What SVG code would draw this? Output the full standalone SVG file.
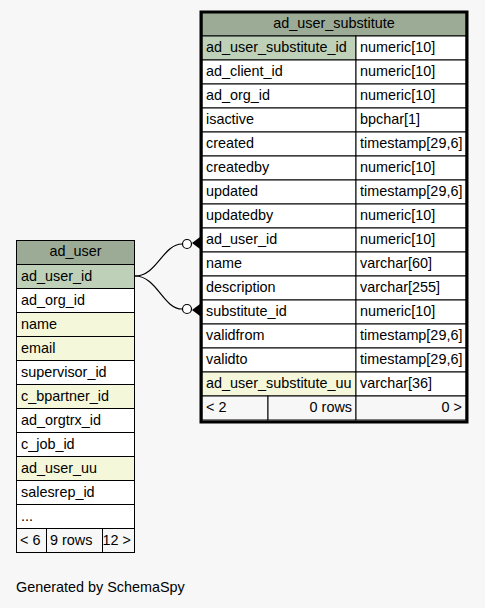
<svg xmlns="http://www.w3.org/2000/svg" width="485" height="608" viewBox="0 0 485 608">
<style>
text{font-family:"Liberation Sans",Arial,sans-serif;font-size:14.4px;fill:#000}
.c{stroke:#000;stroke-width:1}
.h{fill:#9bab96}
.pk{fill:#bed1b8}
.ix{fill:#f4f7da}
.n{fill:#ffffff}
.f{fill:#f7f7f7}
.mid{text-anchor:middle}
.end{text-anchor:end}
.edge{fill:none;stroke:#000;stroke-width:1.2}
</style>
<rect x="0" y="0" width="485" height="608" fill="#f7f7f7"/>
<g id="connectors">
<path class="edge" d="M135,276 C157,276 163,244 182,244"/>
<path class="edge" d="M135,276 C157,276 163,309 182,309"/>
<circle cx="187" cy="244" r="4.5" fill="#fff" stroke="#000" stroke-width="1.2"/>
<circle cx="187" cy="309" r="4.5" fill="#fff" stroke="#000" stroke-width="1.2"/>
<polygon points="192,243 200,237 200,249" fill="#000"/>
<polygon points="192,310 200,304 200,316" fill="#000"/>
</g>
<g id="ad_user_substitute">
<rect class="c h" x="202" y="12" width="264" height="24"/>
<text class="mid" x="334" y="28">ad_user_substitute</text>
<rect class="c pk" x="202" y="36" width="154" height="24"/><rect class="c n" x="356" y="36" width="110" height="24"/>
<text x="206" y="52">ad_user_substitute_id</text><text x="360" y="52">numeric[10]</text>
<rect class="c n" x="202" y="60" width="154" height="24"/><rect class="c n" x="356" y="60" width="110" height="24"/>
<text x="206" y="76">ad_client_id</text><text x="360" y="76">numeric[10]</text>
<rect class="c n" x="202" y="84" width="154" height="24"/><rect class="c n" x="356" y="84" width="110" height="24"/>
<text x="206" y="100">ad_org_id</text><text x="360" y="100">numeric[10]</text>
<rect class="c n" x="202" y="108" width="154" height="24"/><rect class="c n" x="356" y="108" width="110" height="24"/>
<text x="206" y="124">isactive</text><text x="360" y="124">bpchar[1]</text>
<rect class="c n" x="202" y="132" width="154" height="24"/><rect class="c n" x="356" y="132" width="110" height="24"/>
<text x="206" y="148">created</text><text x="360" y="148">timestamp[29,6]</text>
<rect class="c n" x="202" y="156" width="154" height="24"/><rect class="c n" x="356" y="156" width="110" height="24"/>
<text x="206" y="172">createdby</text><text x="360" y="172">numeric[10]</text>
<rect class="c n" x="202" y="180" width="154" height="24"/><rect class="c n" x="356" y="180" width="110" height="24"/>
<text x="206" y="196">updated</text><text x="360" y="196">timestamp[29,6]</text>
<rect class="c n" x="202" y="204" width="154" height="24"/><rect class="c n" x="356" y="204" width="110" height="24"/>
<text x="206" y="220">updatedby</text><text x="360" y="220">numeric[10]</text>
<rect class="c n" x="202" y="228" width="154" height="24"/><rect class="c n" x="356" y="228" width="110" height="24"/>
<text x="206" y="244">ad_user_id</text><text x="360" y="244">numeric[10]</text>
<rect class="c n" x="202" y="252" width="154" height="24"/><rect class="c n" x="356" y="252" width="110" height="24"/>
<text x="206" y="268">name</text><text x="360" y="268">varchar[60]</text>
<rect class="c n" x="202" y="276" width="154" height="24"/><rect class="c n" x="356" y="276" width="110" height="24"/>
<text x="206" y="292">description</text><text x="360" y="292">varchar[255]</text>
<rect class="c n" x="202" y="300" width="154" height="24"/><rect class="c n" x="356" y="300" width="110" height="24"/>
<text x="206" y="316">substitute_id</text><text x="360" y="316">numeric[10]</text>
<rect class="c n" x="202" y="324" width="154" height="24"/><rect class="c n" x="356" y="324" width="110" height="24"/>
<text x="206" y="340">validfrom</text><text x="360" y="340">timestamp[29,6]</text>
<rect class="c n" x="202" y="348" width="154" height="24"/><rect class="c n" x="356" y="348" width="110" height="24"/>
<text x="206" y="364">validto</text><text x="360" y="364">timestamp[29,6]</text>
<rect class="c ix" x="202" y="372" width="154" height="24"/><rect class="c n" x="356" y="372" width="110" height="24"/>
<text x="206" y="388">ad_user_substitute_uu</text><text x="360" y="388">varchar[36]</text>
<rect class="c f" x="202" y="396" width="66" height="24"/><rect class="c f" x="268" y="396" width="88" height="24"/><rect class="c f" x="356" y="396" width="110" height="24"/>
<text x="206" y="412">&lt; 2</text><text class="end" x="352" y="412">0 rows</text><text class="end" x="462" y="412">0 &gt;</text>
<rect x="201" y="12" width="266" height="410" fill="none" stroke="#000" stroke-width="3"/>
</g>
<g id="ad_user">
<rect class="c h" x="16.5" y="240.5" width="118" height="24"/>
<text class="mid" x="75.5" y="256">ad_user</text>
<rect class="c pk" x="16.5" y="264.5" width="118" height="24"/><text x="21" y="281">ad_user_id</text>
<rect class="c n" x="16.5" y="288.5" width="118" height="24"/><text x="21" y="305">ad_org_id</text>
<rect class="c ix" x="16.5" y="312.5" width="118" height="24"/><text x="21" y="329">name</text>
<rect class="c ix" x="16.5" y="336.5" width="118" height="24"/><text x="21" y="353">email</text>
<rect class="c n" x="16.5" y="360.5" width="118" height="24"/><text x="21" y="377">supervisor_id</text>
<rect class="c ix" x="16.5" y="384.5" width="118" height="24"/><text x="21" y="401">c_bpartner_id</text>
<rect class="c n" x="16.5" y="408.5" width="118" height="24"/><text x="21" y="425">ad_orgtrx_id</text>
<rect class="c n" x="16.5" y="432.5" width="118" height="24"/><text x="21" y="449">c_job_id</text>
<rect class="c ix" x="16.5" y="456.5" width="118" height="24"/><text x="21" y="473">ad_user_uu</text>
<rect class="c n" x="16.5" y="480.5" width="118" height="24"/><text x="21" y="497">salesrep_id</text>
<rect class="c n" x="16.5" y="504.5" width="118" height="24"/><text x="21" y="521">...</text>
<rect class="c f" x="16.5" y="528.5" width="30" height="24"/><rect class="c f" x="46.5" y="528.5" width="56" height="24"/><rect class="c f" x="102.5" y="528.5" width="32" height="24"/>
<text x="20" y="545">&lt; 6</text><text x="50" y="545">9 rows</text><text class="end" x="131" y="545">12 &gt;</text>
</g>
<text x="16" y="592">Generated by SchemaSpy</text>
</svg>
